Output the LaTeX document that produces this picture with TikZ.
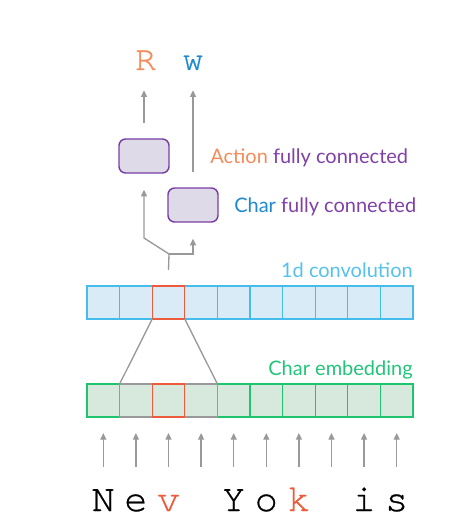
\documentclass[tikz,border=0pt]{standalone}
\usepackage{fontspec}
\setmainfont{Lato}
\newfontfamily\monof[FakeBold=0.6]{TeX Gyre Cursor}
\usetikzlibrary{arrows.meta,calc}
\definecolor{arrgray}{HTML}{999999}
\definecolor{convfill}{HTML}{DAEBF8}
\definecolor{convbd}{HTML}{45BCEB}
\definecolor{embfill}{HTML}{D6E9DC}
\definecolor{embbd}{HTML}{1FC46E}
\definecolor{hired}{HTML}{EE5A3C}
\definecolor{fcbd}{HTML}{7A3FA6}
\definecolor{fcfill}{HTML}{DEDAE8}
\definecolor{lblpurple}{HTML}{8040A8}
\definecolor{actorange}{HTML}{F58A5A}
\definecolor{charblue}{HTML}{1E88D0}
\definecolor{convlbl}{HTML}{55C1EC}
\definecolor{emblbl}{HTML}{22C47A}
\begin{document}
\begin{tikzpicture}[x=0.75pt,y=-0.75pt,
  cellbase/.style={draw, line width=1pt, minimum width=24.45pt, minimum height=24.75pt, inner sep=0pt, outer sep=0pt},
  convcell/.style={cellbase, draw=convbd, fill=convfill},
  embcell/.style={cellbase, draw=embbd, fill=embfill},
  fcbox/.style={draw=fcbd, fill=fcfill, line width=1.1pt, rounded corners=5pt, minimum width=37.5pt, minimum height=25.5pt, inner sep=0pt},
  lbl/.style={font=\fontsize{15}{18}\selectfont, inner sep=0pt, anchor=base east},
  chr/.style={font=\monof\fontsize{29}{31}\selectfont, inner sep=0pt, anchor=base, text height=16pt, text depth=0pt},
  outchr/.style={font=\monof\fontsize{26}{28}\selectfont, inner sep=0pt, anchor=base, text height=14pt, text depth=0pt},
  ln/.style={draw=arrgray, line width=1pt},
  arr/.style={ln, -{Triangle[length=5pt,width=4.5pt]}}
]
\useasboundingbox (0,0) rectangle (474,531);
% cells
\foreach \i in {0,...,9}{
  \node[convcell] (c\i) at ({103.3+32.6*\i},302.5) {};
  \node[embcell] (e\i) at ({103.3+32.6*\i},400.5) {};
}
\draw[draw=arrgray, line width=1pt] (e1.south west) rectangle (e1.north east);
\draw[draw=arrgray, line width=1pt] (e3.south west) rectangle (e3.north east);
\draw[draw=hired, line width=1pt] (e2.south west) rectangle (e2.north east);
\draw[draw=hired, line width=1pt] (c2.south west) rectangle (c2.north east);
\draw[ln] (c2.south west) -- (e1.north west);
\draw[ln] (c2.south east) -- (e3.north east);
% labels
\node[lbl, text=convlbl] (convlabel) at (413,277) {1d convolution};
\node[lbl, text=emblbl] (emblabel) at (413,375) {Char embedding};
% input characters
\foreach \i/\c/\col in {0/N/black,1/e/black,2/v/hired,3/{\ }/black,4/Y/black,5/o/black,6/k/hired,7/{\ }/black,8/i/black,9/s/black}{
  \node[chr, text=\col] (t\i) at ({103.3+32.6*\i},511) {\c};
  \draw[arr, shorten <=17pt, shorten >=12pt] (t\i.north) -- (e\i.south);
}
% fully connected boxes
\node[fcbox] (b1) at (144,156) {};
\node[fcbox] (b2) at (193,205) {};
\node[anchor=base west, inner sep=0pt, font=\fontsize{15}{18}\selectfont] (actlabel) at (210,163) {\textcolor{actorange}{Action} \textcolor{lblpurple}{fully connected}};
\node[anchor=base west, inner sep=0pt, font=\fontsize{15}{18}\selectfont] (charlabel) at (234,212) {\textcolor{charblue}{Char} \textcolor{lblpurple}{fully connected}};
% outputs
\node[outchr, text=actorange] (R) at (145.5,70) {R};
\node[outchr, text=charblue] (W) at (193,70) {w};
\draw[arr, shorten >=15pt] ([yshift=11.25pt]b1.north) -- (b1.north |- R.south);
\draw[arr, shorten >=15pt] ([yshift=11.25pt]b2.north) -- (b2.north |- W.south);
% fork
\coordinate (fork) at (169,254);
\draw[ln] ([yshift=12pt]c2.north) -- (fork);
\draw[arr] (fork) -- ++(-25,-16) -- ([yshift=-12pt]b1.south);
\draw[arr] (fork) -| ([yshift=-12pt]b2.south);
\end{tikzpicture}
\end{document}
